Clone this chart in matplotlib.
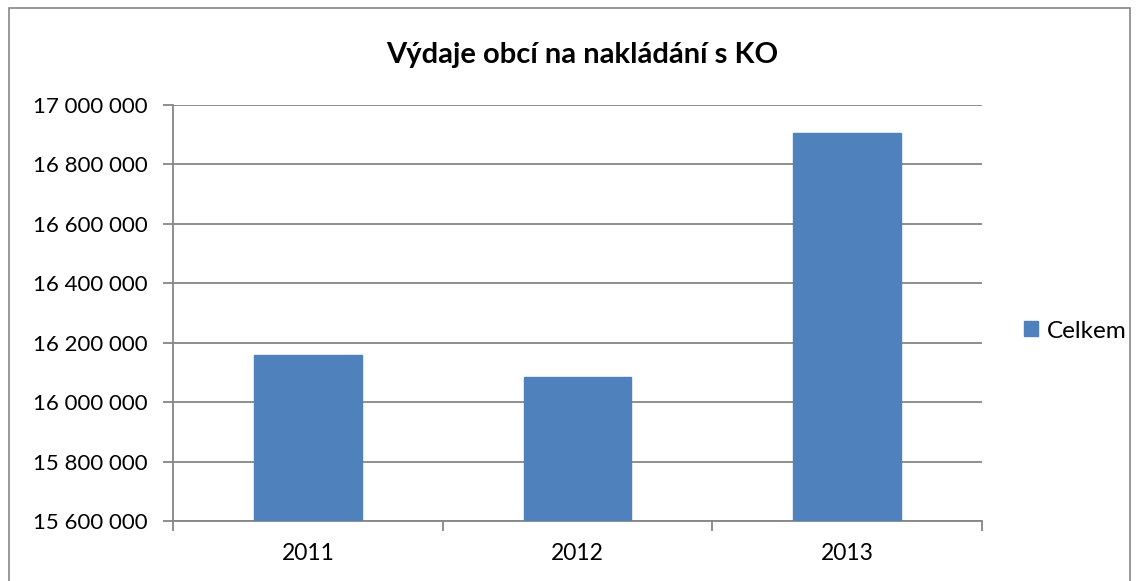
import matplotlib.pyplot as plt
import matplotlib.patches as patches
import matplotlib.ticker as mticker

years = ["2011", "2012", "2013"]
celkem = [16157000, 16083000, 16905000]
y_ticks = [15600000, 15800000, 16000000, 16200000, 16400000, 16600000, 16800000, 17000000]

plt.rcParams["font.family"] = ["Lato", "DejaVu Sans"]

W, H = 1139, 581
fig = plt.figure(figsize=(W / 100, H / 100), dpi=100)
ax = fig.add_axes([173 / W, 1 - 521 / H, (982 - 173) / W, (521 - 105) / H])

grid_col = "#868686"
x = list(range(len(years)))
ax.bar(x, celkem, width=0.4, color="#4F81BD", edgecolor="#4F81BD", zorder=3, label="Celkem")

ax.set_ylim(y_ticks[0], y_ticks[-1])
ax.set_xlim(-0.5, len(years) - 0.5)
ax.set_yticks(y_ticks)
ax.yaxis.set_major_formatter(mticker.FuncFormatter(lambda v, p: f"{int(v):,}".replace(",", " ")))
ax.grid(axis="y", color=grid_col, linewidth=1.3, zorder=0)

# category boundaries as ticks, labels at centres
ax.set_xticks([i - 0.5 for i in range(len(years) + 1)])
ax.set_xticklabels([])
ax.set_xticks(x, minor=True)
ax.set_xticklabels(years, minor=True)
ax.tick_params(axis="x", which="major", length=7, color=grid_col, width=1.3)
ax.tick_params(axis="x", which="minor", length=0, pad=16, labelsize=16.5)
ax.tick_params(axis="y", length=7, color=grid_col, width=1.3, labelsize=16, pad=11)

for s in ["top", "right"]:
    ax.spines[s].set_visible(False)
for s in ["left", "bottom"]:
    ax.spines[s].set_color(grid_col)
    ax.spines[s].set_linewidth(1.3)

fig.text(582 / W, 1 - 55 / H, "Výdaje obcí na nakládání s KO", ha="center", va="center",
         fontsize=21, fontweight="bold")

ax.legend(loc="center left", bbox_to_anchor=(1024 / W, 1 - 331 / H), bbox_transform=fig.transFigure,
          frameon=False, fontsize=17.5, handlelength=0.58, handleheight=0.58, handletextpad=0.37,
          borderpad=0, borderaxespad=0)

# chart frame
fig.patches.append(patches.Rectangle((9 / W, -0.01), (1130 - 9) / W, 1 - 8 / H + 0.01,
                                     transform=fig.transFigure, fill=False,
                                     edgecolor="#868686", linewidth=1.2))

fig.savefig("out.png", dpi=100)
